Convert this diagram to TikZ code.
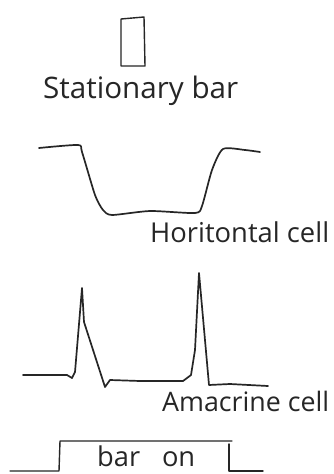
\documentclass[tikz,border=0pt]{standalone}
\usepackage{fontspec}
\setmainfont{Open Sans}
\begin{document}
\begin{tikzpicture}[x=1pt,y=-1pt,
  trace/.style={line width=1.7pt,draw=black!85,line join=round,line cap=round},
  lbl/.style={inner sep=0pt,anchor=base west,text=black!85}]
\useasboundingbox (0,0) rectangle (333,474);
\fill[white] (0,0) rectangle (333,474);
% stationary bar
\draw[trace,line width=1.4pt] (121,19) -- (144,17) -- (145,66) -- (121,66) -- cycle;
\node[lbl] (sb) at (43,98) {\resizebox{195pt}{!}{Stationary bar}};
% horizontal cell trace
\draw[trace] plot[smooth,tension=0.4] coordinates {(39,148) (78,145) (82,152) (95,195) (103,210) (112,215) (150,211) (195,213) (202,206) (212,170) (223,149) (245,150) (260,152)};
\node[lbl] (hc) at (150,242) {\resizebox{179pt}{!}{Horitontal cell}};
% amacrine trace
\draw[trace] (23,375) -- (67,375) -- (72,378) -- (75,372) -- (82,288) -- (84,322) -- (105,387) -- (110,380) -- (140,381) -- (183,381) -- (191,375) -- (195,350) -- (199,273) -- (209,385) -- (230,384) -- (268,386);
\node[lbl] (ac) at (162,411) {\resizebox{167pt}{!}{Amacrine cell}};
% bar on trace
\draw[trace,line width=1.4pt] (10,471) -- (59,471) -- (60,441) -- (232,441);
\draw[trace,line width=1.4pt] (229,444) -- (229,471) -- (263,471);
\node[lbl] (bo) at (97,466) {\resizebox{98pt}{!}{bar\hspace{0.8em}on}};
\end{tikzpicture}
\end{document}
